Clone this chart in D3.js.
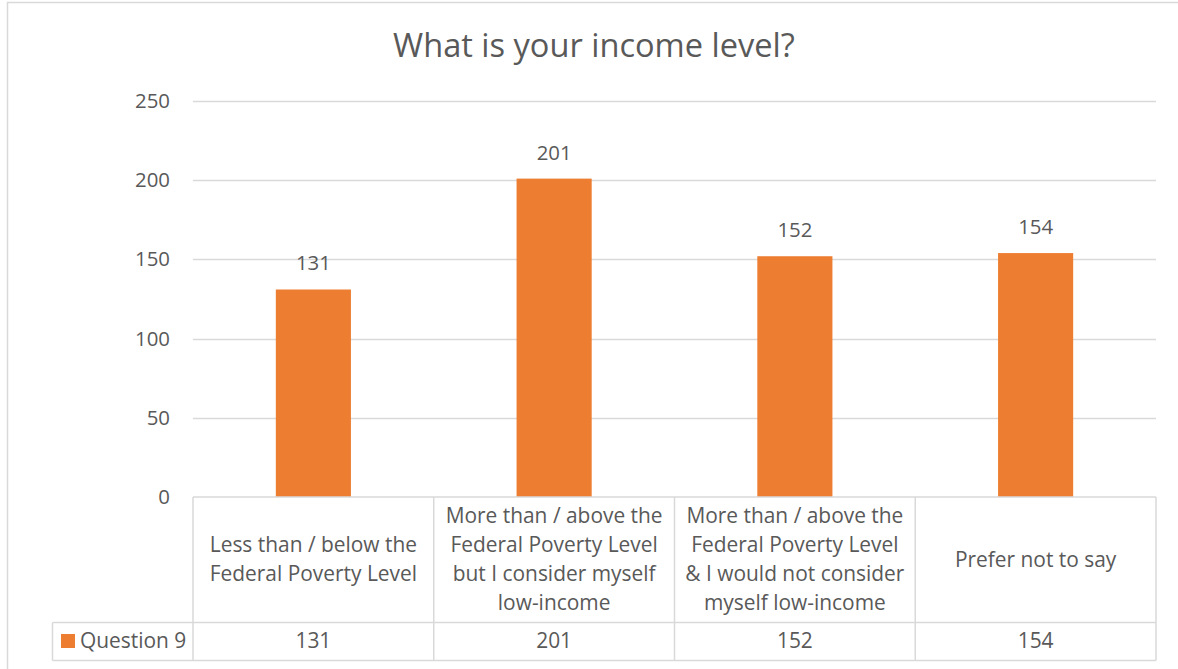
<!DOCTYPE html>
<html>
<head>
<meta charset="utf-8">
<script src="https://cdn.jsdelivr.net/npm/d3@7"></script>
<style>
  html, body { margin: 0; padding: 0; background: #fff; }
  svg { display: block; }
  text { font-family: "Open Sans", "Lato", sans-serif; fill: #595959; }
</style>
</head>
<body>
<script>
const chartTitle = "What is your income level?";
const seriesName = "Question 9";
const categories = [
  ["Less than / below the", "Federal Poverty Level"],
  ["More than / above the", "Federal Poverty Level", "but I consider myself", "low-income"],
  ["More than / above the", "Federal Poverty Level", "& I would not consider", "myself low-income"],
  ["Prefer not to say"]
];
const values = [131, 201, 152, 154];
const yTicks = [0, 50, 100, 150, 200, 250];

const W = 1178, H = 669;
const svg = d3.select("body").append("svg").attr("width", W).attr("height", H);

// font size fitting helper: size so that sample text reaches target width
function fitSize(sample, target) {
  const t = svg.append("text").style("font-size", "20px").text(sample);
  const w = t.node().getComputedTextLength();
  t.remove();
  return 20 * target / w;
}
const titleSize = fitSize(chartTitle, 402);
const tickSize = fitSize("250", 35);
const tableSize = (fitSize("Less than / below the", 208) + fitSize("More than / above the", 219) + fitSize("Question 9", 105)) / 3;

// outer chart border
svg.append("rect").attr("x", 7.5).attr("y", 2.5).attr("width", W + 10).attr("height", H + 10)
  .attr("fill", "none").attr("stroke", "#d9d9d9").attr("stroke-width", 1.5);

const plot = { left: 193, right: 1156, top: 101, bottom: 497 };
const x = d3.scaleBand().domain(d3.range(categories.length)).range([plot.left, plot.right])
  .paddingInner(0).paddingOuter(0);
const y = d3.scaleLinear().domain([0, 250]).range([plot.bottom, plot.top]);
const barW = x.bandwidth() * 0.312;

// title
svg.append("text").attr("x", 594).attr("y", 57).attr("text-anchor", "middle")
  .style("font-size", titleSize + "px").text(chartTitle);

// gridlines
svg.append("g").selectAll("line").data(yTicks.filter(d => d > 0)).join("line")
  .attr("x1", plot.left).attr("x2", plot.right)
  .attr("y1", d => Math.round(y(d)) + 0.5).attr("y2", d => Math.round(y(d)) + 0.5)
  .attr("stroke", "#d9d9d9").attr("stroke-width", 1.3);

// y axis labels
const yAxis = d3.axisLeft(y).tickValues(yTicks).tickSize(0).tickPadding(0);
const ya = svg.append("g").attr("transform", `translate(${170},0)`).call(yAxis);
ya.select(".domain").remove();
ya.selectAll("text").style("font-size", tickSize + "px").attr("fill", "#595959")
  .style("font-family", '"Open Sans", "Lato", sans-serif');

// bars
svg.append("g").selectAll("rect").data(values).join("rect")
  .attr("x", (d, i) => x(i) + x.bandwidth() / 2 - barW / 2)
  .attr("width", barW)
  .attr("y", d => y(d)).attr("height", d => y(0) - y(d))
  .attr("fill", "#ED7D31");

// data labels
svg.append("g").selectAll("text").data(values).join("text")
  .attr("x", (d, i) => x(i) + x.bandwidth() / 2)
  .attr("y", d => y(d) - 19)
  .attr("text-anchor", "middle").style("font-size", tickSize + "px").text(d => d);

// data table
const tbl = { top: 497, mid: 622.5, bottom: 660.5, legLeft: 52.5 };
const g = svg.append("g").attr("stroke", "#d9d9d9").attr("stroke-width", 1.5).attr("fill", "none");
g.append("line").attr("x1", plot.left).attr("x2", plot.right).attr("y1", tbl.top).attr("y2", tbl.top);
g.append("line").attr("x1", tbl.legLeft).attr("x2", plot.right).attr("y1", tbl.mid).attr("y2", tbl.mid);
g.append("line").attr("x1", tbl.legLeft).attr("x2", plot.right).attr("y1", tbl.bottom).attr("y2", tbl.bottom);
g.append("line").attr("x1", tbl.legLeft).attr("x2", tbl.legLeft).attr("y1", tbl.mid).attr("y2", tbl.bottom);
const vx = d3.range(categories.length + 1).map(i => i < categories.length ? x(i) : plot.right);
g.selectAll("line.v").data(vx).join("line").attr("class", "v")
  .attr("x1", d => d).attr("x2", d => d).attr("y1", tbl.top).attr("y2", tbl.bottom);

// category labels
const lh = 29;
const catG = svg.append("g");
categories.forEach((lines, i) => {
  const cy = (tbl.top + tbl.mid) / 2;
  const start = cy - (lines.length - 1) * lh / 2 + 7;
  const t = catG.append("text").attr("text-anchor", "middle").style("font-size", tableSize + "px");
  lines.forEach((ln, j) => {
    t.append("tspan").attr("x", x(i) + x.bandwidth() / 2).attr("y", start + j * lh).text(ln);
  });
});

// value row
svg.append("g").selectAll("text").data(values).join("text")
  .attr("x", (d, i) => x(i) + x.bandwidth() / 2).attr("y", 648)
  .attr("text-anchor", "middle").style("font-size", tableSize + "px").text(d => d);

// legend key
svg.append("rect").attr("x", 61).attr("y", 634).attr("width", 14).attr("height", 14).attr("fill", "#ED7D31");
svg.append("text").attr("x", 80).attr("y", 648).style("font-size", tableSize + "px").text(seriesName);
</script>
</body>
</html>
